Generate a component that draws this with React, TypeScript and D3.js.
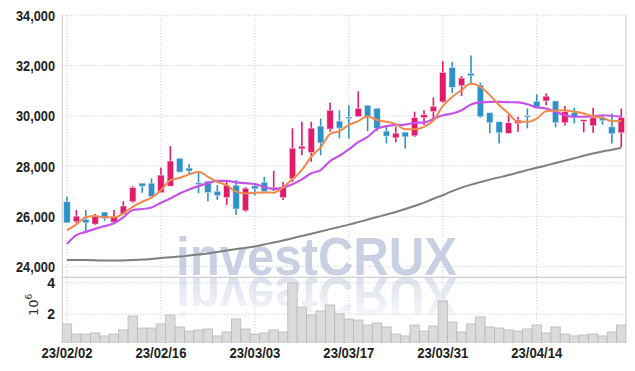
import React, { useEffect, useRef } from 'react'
import * as d3 from 'd3'

// trading days 2023-02-02 .. 2023-04-27
const dates = [
  '23/02/02', '23/02/03', '23/02/06', '23/02/07', '23/02/08', '23/02/09', '23/02/10', '23/02/13', '23/02/14', '23/02/15',
  '23/02/16', '23/02/17', '23/02/20', '23/02/21', '23/02/22', '23/02/23', '23/02/24', '23/02/27', '23/02/28', '23/03/02',
  '23/03/03', '23/03/06', '23/03/07', '23/03/08', '23/03/09', '23/03/10', '23/03/13', '23/03/14', '23/03/15', '23/03/16',
  '23/03/17', '23/03/20', '23/03/21', '23/03/22', '23/03/23', '23/03/24', '23/03/27', '23/03/28', '23/03/29', '23/03/30',
  '23/03/31', '23/04/03', '23/04/04', '23/04/05', '23/04/06', '23/04/07', '23/04/10', '23/04/11', '23/04/12', '23/04/13',
  '23/04/14', '23/04/17', '23/04/18', '23/04/19', '23/04/20', '23/04/21', '23/04/24', '23/04/25', '23/04/26', '23/04/27'
]

const open = [
  26580, 25780, 25880, 25690, 26170, 25770, 26090, 26580, 27320, 27320,
  26940, 27200, 28310, 27920, 27340, 27400, 27000, 26740, 27240, 26220,
  27210, 27360, 27090, 26740, 27490, 28680, 28530, 29590, 29470, 29790,
  29950, 29960, 30420, 30300, 29390, 29120, 29350, 29200, 29920, 30160,
  30550, 31920, 31190, 31690, 31220, 30120, 29760, 29300, 29690, 30010,
  30580, 30590, 30590, 29720, 30120, 29770, 29600, 29920, 29560, 29320
]
const high = [
  26780, 26250, 26250, 26090, 26170, 26250, 26600, 27200, 27320, 27510,
  27940, 28790, 28310, 28080, 27770, 27400, 27240, 27410, 27440, 27170,
  27310, 27570, 27810, 27370, 29500, 29760, 29760, 29890, 30530, 30220,
  30420, 30970, 30420, 30300, 29630, 29560, 29350, 30160, 30220, 30730,
  32170, 32140, 31580, 32400, 31320, 30120, 29760, 30020, 29960, 30290,
  30850, 30890, 30590, 30390, 30320, 29840, 30320, 30020, 30090, 30290
]
const low = [
  25740, 25720, 25380, 25650, 25820, 25720, 26090, 26540, 26940, 26780,
  26940, 27200, 27760, 27640, 26910, 26600, 26650, 26450, 26050, 26180,
  26840, 26980, 27010, 26650, 27370, 28430, 28170, 28430, 29360, 29100,
  29100, 29960, 29390, 29390, 28900, 28950, 28700, 29160, 29630, 29890,
  30510, 30910, 30780, 31220, 29920, 29300, 28900, 29300, 29360, 29500,
  30340, 30420, 29540, 29610, 29690, 29340, 29320, 29640, 28900, 28760
]
const close = [
  25740, 26010, 25740, 26010, 25920, 25960, 26410, 27150, 27200, 26780,
  27640, 28200, 27760, 27800, 27300, 26940, 26820, 27240, 26290, 27120,
  27090, 26980, 27160, 27160, 28710, 28790, 29510, 28920, 30220, 29510,
  29920, 30300, 29980, 29500, 29190, 29310, 29160, 29930, 30040, 30380,
  31730, 31130, 31500, 31590, 29960, 29720, 29320, 29720, 29830, 29970,
  30340, 30780, 29720, 30160, 29920, 29840, 29920, 29800, 29280, 29930
]

// volume, millions of shares
const volume = [
  1.39, 0.75, 0.75, 0.82, 0.63, 0.75, 1.01, 1.89, 1.13, 1.13,
  1.39, 1.96, 1.20, 0.94, 1.01, 1.07, 0.63, 0.88, 1.70, 1.07,
  0.75, 0.82, 1.01, 0.88, 3.98, 2.46, 1.96, 2.21, 2.59, 2.02,
  1.70, 1.64, 1.32, 1.45, 1.20, 0.75, 0.63, 1.32, 0.94, 1.26,
  2.84, 1.51, 0.88, 1.39, 1.83, 1.20, 1.13, 1.01, 0.94, 1.07,
  1.32, 0.82, 1.20, 0.75, 0.63, 0.69, 0.75, 0.63, 0.88, 1.32
]

// moving averages
const ma5 = [
  25450, 25680, 25960, 26010, 25960, 25960, 26120, 26380, 26580, 26740,
  27040, 27440, 27530, 27670, 27770, 27570, 27370, 27240, 26980, 26910,
  26940, 26950, 26940, 27150, 27480, 27840, 28370, 28740, 29270, 29390,
  29630, 29790, 29980, 29830, 29760, 29670, 29460, 29460, 29560, 29810,
  30380, 30750, 31020, 31280, 31150, 30820, 30420, 30090, 29760, 29760,
  29890, 30180, 30200, 30220, 30160, 30090, 29980, 29920, 29790, 29790
]
const ma20 = [
  24900, 25250, 25380, 25500, 25610, 25720, 25960, 26250, 26290, 26350,
  26540, 26710, 26910, 27070, 27200, 27310, 27410, 27410, 27350, 27320,
  27280, 27170, 27080, 27140, 27280, 27470, 27710, 27840, 28200, 28410,
  28660, 28950, 29160, 29480, 29590, 29630, 29650, 29720, 29730, 29870,
  30020, 30090, 30220, 30450, 30530, 30550, 30550, 30540, 30530, 30460,
  30330, 30290, 30160, 30020, 29960, 29960, 29980, 30020, 30000, 29960
]
const ma120 = [
  24260, 24260, 24260, 24250, 24240, 24240, 24245, 24260, 24280, 24300,
  24340, 24370, 24400, 24440, 24480, 24525, 24580, 24640, 24700, 24745,
  24800, 24880, 24955, 25040, 25130, 25220, 25310, 25400, 25490, 25580,
  25670, 25770, 25870, 25970, 26070, 26175, 26290, 26410, 26545, 26700,
  26840, 27000, 27140, 27260, 27360, 27460, 27550, 27640, 27740, 27840,
  27930, 28020, 28120, 28215, 28310, 28410, 28500, 28580, 28650, 28730
]

const priceTicks = [24000, 26000, 28000, 30000, 32000, 34000]
const volumeTicks = [2, 4]
const dateTicks = ['23/02/02', '23/02/16', '23/03/03', '23/03/17', '23/03/31', '23/04/14']

const W = 635
const H = 371
const UP = '#e3196a'
const DOWN = '#2b93c8'
const LABEL_FONT = "'Liberation Sans', Arial, sans-serif"

export default function App() {
  const ref = useRef<SVGSVGElement>(null)

  useEffect(() => {
    const svg = d3.select(ref.current)
    svg.selectAll('*').remove()

    const left = 62.3, right = 626
    const top = 15.2, priceBottom = 277.3, volBottom = 342.7

    const x = d3.scaleBand<string>().domain(dates).range([left, right])
    const cx = (d: string) => (x(d) as number) + x.bandwidth() / 2
    const y = d3.scaleLinear().domain([24000, 34000]).range([266.6, top])
    const yv = d3.scaleLinear().domain([0, 4]).range([345.9, 282.7])

    const defs = svg.append('defs')
    const grad = defs.append('linearGradient')
      .attr('id', 'refl').attr('x1', 0).attr('y1', 0).attr('x2', 0).attr('y2', 1)
    grad.append('stop').attr('offset', 0).attr('stop-color', '#c5cce0').attr('stop-opacity', 0.05)
    grad.append('stop').attr('offset', 1).attr('stop-color', '#c5cce0').attr('stop-opacity', 0.7)
    defs.append('clipPath').attr('id', 'volclip')
      .append('rect').attr('x', left).attr('y', priceBottom).attr('width', right - left).attr('height', volBottom - priceBottom)

    svg.append('rect').attr('width', W).attr('height', H).attr('fill', '#fff')

    // watermark + reflection
    const wm = svg.append('g')
    wm.append('text')
      .attr('x', 176).attr('y', 275)
      .attr('textLength', 281).attr('lengthAdjust', 'spacingAndGlyphs')
      .style('font-family', "'Liberation Sans', Arial, sans-serif")
      .style('font-weight', 'bold').style('font-size', '53px')
      .attr('fill', '#c5cce0').attr('opacity', 0.9)
      .text('investCRUX')
    wm.append('text')
      .attr('x', 176).attr('y', 275)
      .attr('transform', 'translate(0,553) scale(1,-1)')
      .attr('textLength', 281).attr('lengthAdjust', 'spacingAndGlyphs')
      .style('font-family', "'Liberation Sans', Arial, sans-serif")
      .style('font-weight', 'bold').style('font-size', '53px')
      .attr('fill', 'url(#refl)')
      .text('investCRUX')

    // grid
    const grid = svg.append('g').attr('stroke', '#c4c4d8').attr('stroke-width', 1).attr('stroke-dasharray', '1,2')
    priceTicks.forEach(t => {
      grid.append('line').attr('x1', left).attr('x2', right).attr('y1', y(t)).attr('y2', y(t))
    })
    volumeTicks.forEach(t => {
      grid.append('line').attr('x1', left).attr('x2', right).attr('y1', yv(t)).attr('y2', yv(t))
    })
    dateTicks.forEach(d => {
      grid.append('line').attr('x1', cx(d)).attr('x2', cx(d)).attr('y1', top).attr('y2', volBottom)
    })

    // frame
    const frame = svg.append('g').attr('stroke', '#cfcfcf').attr('stroke-width', 1.2)
    frame.append('line').attr('x1', left).attr('x2', left).attr('y1', top).attr('y2', volBottom)
    frame.append('line').attr('x1', right).attr('x2', right).attr('y1', top).attr('y2', volBottom)
    frame.append('line').attr('x1', left).attr('x2', right).attr('y1', priceBottom).attr('y2', priceBottom)

    // volume bars
    svg.append('g').attr('clip-path', 'url(#volclip)')
      .selectAll('rect').data(dates).enter().append('rect')
      .attr('x', d => x(d) as number)
      .attr('width', x.bandwidth())
      .attr('y', (d, i) => yv(volume[i]))
      .attr('height', (d, i) => volBottom - yv(volume[i]))
      .attr('fill', '#d8d8d8').attr('fill-opacity', 0.92)
      .attr('stroke', '#b9b9b9').attr('stroke-width', 0.8)

    // moving averages
    const line = (vals: number[]) => d3.line<string>()
      .x(d => cx(d))
      .y((d, i) => y(vals[i]))
      .curve(d3.curveMonotoneX)(dates)

    svg.append('path').attr('d', line(ma120)).attr('fill', 'none')
      .attr('stroke', '#7f7f7f').attr('stroke-width', 2)

    // candles
    const bodyW = 6.4
    const c = svg.append('g').selectAll('g').data(dates).enter().append('g')
    c.append('line')
      .attr('x1', d => cx(d)).attr('x2', d => cx(d))
      .attr('y1', (d, i) => y(high[i])).attr('y2', (d, i) => y(low[i]))
      .attr('stroke', (d, i) => close[i] >= open[i] ? UP : DOWN)
      .attr('stroke-width', 1.6)
    c.append('rect')
      .attr('x', d => cx(d) - bodyW / 2)
      .attr('width', bodyW)
      .attr('y', (d, i) => y(Math.max(open[i], close[i])))
      .attr('height', (d, i) => Math.max(1.5, Math.abs(y(open[i]) - y(close[i]))))
      .attr('fill', (d, i) => close[i] >= open[i] ? UP : DOWN)
      .attr('stroke', '#ece6f4').attr('stroke-width', 0.6)

    svg.append('path').attr('d', line(ma20)).attr('fill', 'none')
      .attr('stroke', '#c653ea').attr('stroke-width', 2.2)
    svg.append('path').attr('d', line(ma5)).attr('fill', 'none')
      .attr('stroke', '#ef8a4f').attr('stroke-width', 2)

    // labels
    const lab = svg.append('g')
      .style('font-family', LABEL_FONT).style('font-weight', 'bold')
      .style('font-size', '14px').attr('fill', '#222')
    priceTicks.forEach(t => {
      lab.append('text').attr('x', 55).attr('y', y(t) + 5.5)
        .attr('text-anchor', 'end')
        .attr('textLength', 39).attr('lengthAdjust', 'spacingAndGlyphs')
        .text(d3.format(',')(t))
    })
    volumeTicks.forEach(t => {
      lab.append('text').attr('x', 55).attr('y', yv(t) + 5)
        .attr('text-anchor', 'end').text(t)
    })
    dateTicks.forEach(d => {
      lab.append('text').attr('x', cx(d)).attr('y', 357.5)
        .attr('text-anchor', 'middle')
        .attr('textLength', 51).attr('lengthAdjust', 'spacingAndGlyphs')
        .style('font-size', '14.5px').text(d)
    })

    // 10^6 unit label
    const unit = svg.append('text')
      .attr('transform', 'translate(38,316) rotate(-90)')
      .style('font-family', "'DejaVu Sans', sans-serif")
      .style('font-size', '13px').attr('fill', '#333')
    unit.append('tspan').text('10')
    unit.append('tspan').attr('dy', -6).style('font-size', '9px').text('6')
  }, [])

  return (
    <svg ref={ref} width={W} height={H}
      style={{ position: 'absolute', left: 0, top: 0, display: 'block' }} />
  )
}
